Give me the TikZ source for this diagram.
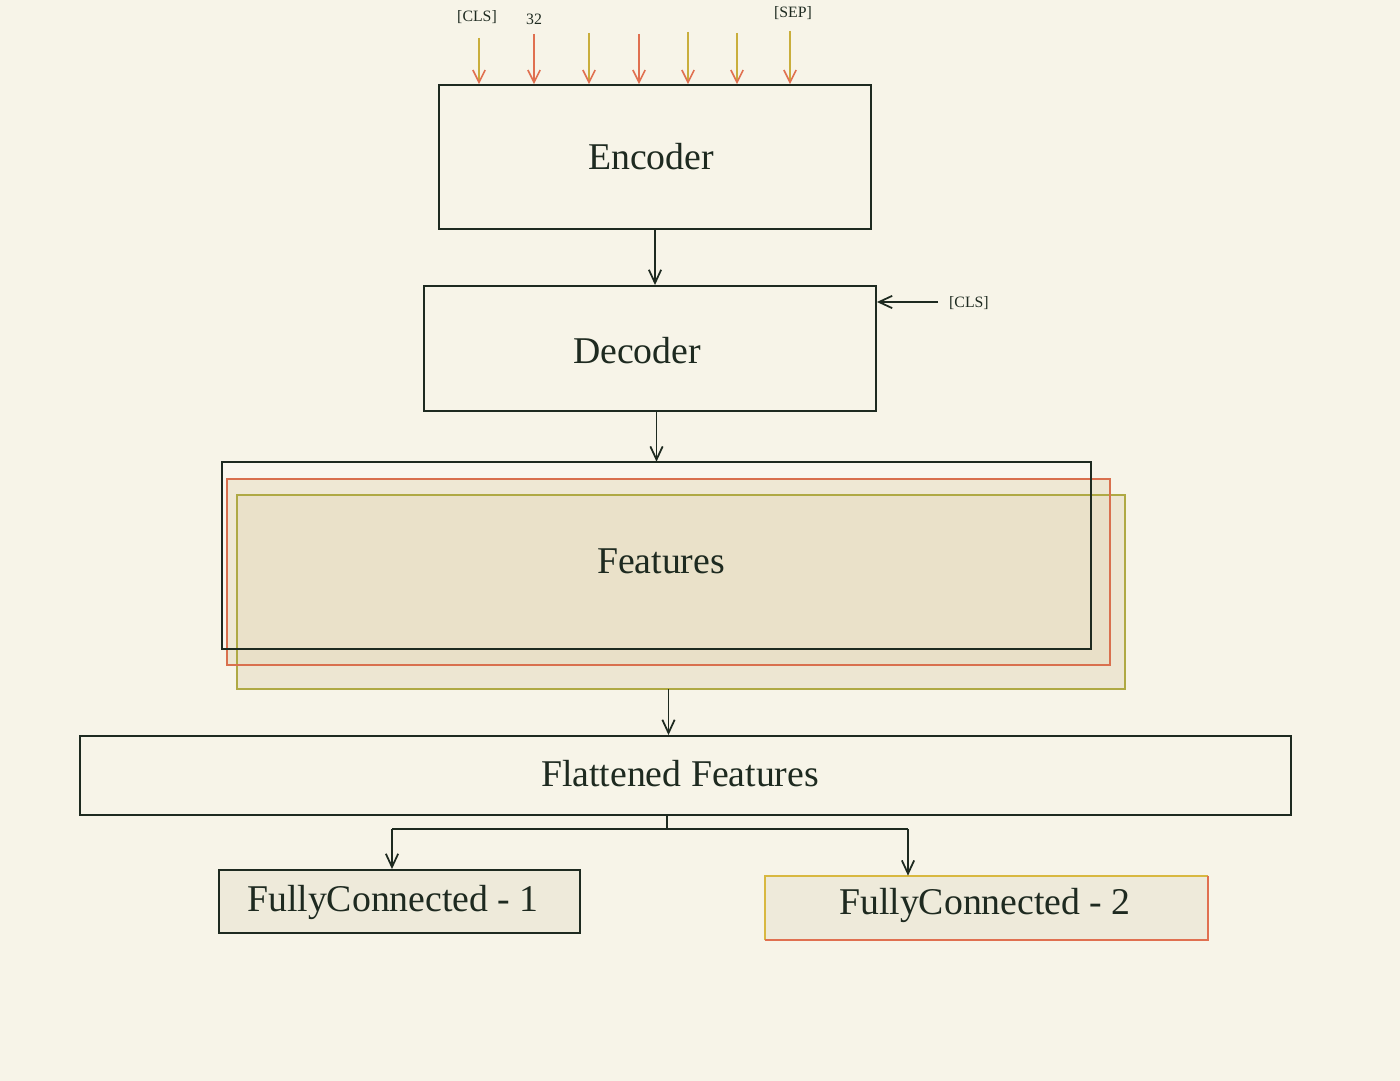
\documentclass[tikz,border=0pt]{standalone}
\usepackage{fontspec}
\setmainfont{Liberation Serif}
\usetikzlibrary{arrows.meta}
\definecolor{bg}{HTML}{F7F4E8}
\definecolor{ink}{HTML}{1E2A20}
\definecolor{tokY}{HTML}{C9AE3C}
\definecolor{tokR}{HTML}{E07050}
\definecolor{redb}{HTML}{D9704E}
\definecolor{oliveb}{HTML}{AFA944}
\definecolor{featfill}{HTML}{E6DCC0}
\definecolor{lightfill}{HTML}{FAF7EE}
\definecolor{fcfill}{HTML}{EEEADA}
\definecolor{fcY}{HTML}{D8B840}
\tikzset{
  box/.style={draw=ink, line width=1.1pt, rectangle, inner sep=0pt},
  bigtxt/.style={text=ink, font=\fontsize{21.5}{24}\selectfont},
  smalltxt/.style={text=ink, font=\fontsize{9}{10}\selectfont},
  arr/.style={draw=ink, line width=1pt, -{Straight Barb[length=7.5pt,width=7pt]}},
  tokarrY/.style={draw=tokY, line width=0.9pt, -{Straight Barb[length=7pt,width=7pt,color=tokR]}},
  tokarrR/.style={draw=tokR, line width=0.9pt, -{Straight Barb[length=7pt,width=7pt]}},
}
\begin{document}
\begin{tikzpicture}[x=0.02cm, y=-0.02cm]
\fill[bg] (0,0) rectangle (1400,1081);
\useasboundingbox (0,0) rectangle (1400,1081);

% Encoder
\node[box, minimum width=8.64cm, minimum height=2.88cm] (enc) at (655,157) {};
\node[bigtxt] (enct) at (651,157) {Encoder};

% input tokens
\coordinate (t1) at (479,38);
\coordinate (t2) at (534,34);
\coordinate (t3) at (589,33);
\coordinate (t4) at (639,34);
\coordinate (t5) at (688,32);
\coordinate (t6) at (737,33);
\coordinate (t7) at (790,31);
\draw[tokarrY] (t1) -- (t1 |- enc.north);
\draw[tokarrR] (t2) -- (t2 |- enc.north);
\draw[tokarrY] (t3) -- (t3 |- enc.north);
\draw[tokarrR] (t4) -- (t4 |- enc.north);
\draw[tokarrY] (t5) -- (t5 |- enc.north);
\draw[tokarrY] (t6) -- (t6 |- enc.north);
\draw[tokarrY] (t7) -- (t7 |- enc.north);
\node[smalltxt] (l1) at (477,17) {[CLS]};
\node[smalltxt] (l2) at (534,19) {32};
\node[smalltxt] (l7) at (793,13) {[SEP]};

% Decoder
\node[box, minimum width=9.04cm, minimum height=2.5cm] (dec) at (650,348.5) {};
\node[bigtxt] (dect) at (637,351) {Decoder};
\draw[arr] (enc.south) -- (enc.south |- dec.north);
\coordinate (c2) at (938,302);
\draw[arr] (c2) -- (c2 -| dec.east);
\node[smalltxt, anchor=west] (l8) at (943,303) {[CLS]};

% Features stack: fills first, then borders
\node[fill=lightfill, inner sep=0pt, minimum width=17.38cm, minimum height=3.74cm] (fb) at (656.5,555.5) {};
\node[fill=featfill, fill opacity=0.55, inner sep=0pt,
      minimum width=17.66cm, minimum height=3.72cm] (fr) at (668.5,572) {};
\node[fill=featfill, fill opacity=0.55, inner sep=0pt,
      minimum width=17.76cm, minimum height=3.88cm] (fo) at (681,592) {};
\draw[oliveb, line width=1.1pt] (fo.south west) rectangle (fo.north east);
\draw[redb, line width=1.3pt] (fr.south west) rectangle (fr.north east);
\draw[ink, line width=1.1pt] (fb.south west) rectangle (fb.north east);
\node[bigtxt] (ft) at (661,561) {Features};
\draw[arr] (fb.north |- dec.south) -- (fb.north);

% Flattened
\node[box, minimum width=24.22cm, minimum height=1.58cm] (flat) at (685.5,775.5) {};
\node[bigtxt] (flt) at (680,774) {Flattened Features};
\draw[arr] (fr.south |- fo.south) -- (fr.south |- flat.north);

% Fully connected
\node[box, fill=fcfill, minimum width=7.22cm, minimum height=1.26cm] (fc1) at (399.5,901.5) {};
\node[bigtxt] (fc1t) at (393,902) {FullyConnected - 1};
\node[fill=fcfill, inner sep=0pt, minimum width=8.86cm, minimum height=1.28cm] (fc2) at (986.5,908) {};
\draw[fcY, line width=1pt] (fc2.south west) -- (fc2.north west) -- (fc2.north east);
\draw[tokR, line width=1pt] (fc2.north east) -- (fc2.south east) -- (fc2.south west);
\node[bigtxt] (fc2t) at (985,905) {FullyConnected - 2};

\coordinate (sp) at (667,829);
\coordinate (s1) at (392,829);
\coordinate (s2) at (908,829);
\draw[ink, line width=1.1pt] (sp |- flat.south) -- (sp);
\draw[ink, line width=1.1pt] (s1) -- (s2);
\draw[arr] (s1) -- (s1 |- fc1.north);
\draw[arr] (s2) -- (s2 |- fc2.north);
\end{tikzpicture}
\end{document}
